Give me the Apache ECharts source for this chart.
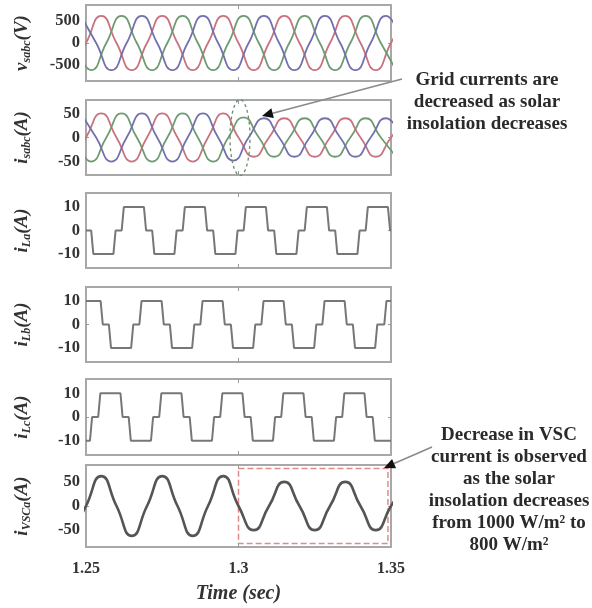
<!DOCTYPE html>
<html>
<head>
<meta charset="utf-8">
<script src="https://cdn.jsdelivr.net/npm/echarts@6/dist/echarts.min.js"></script>
<style>
  html, body { margin: 0; background: #fff; }
  #chart { width: 592px; height: 608px; }
</style>
</head>
<body>
<div id="chart"></div>
<script>
// time axis
const xTicks = [1.25, 1.3, 1.35];
const xLabels = ['1.25', '1.3', '1.35'];
const vTicks = [-500, 0, 500];
const iTicks = [-50, 0, 50];
const lTicks = [-10, 0, 10];

// grid voltages, keypoints (zero crossings and peaks)
const vsa = [[1.245,-620],[1.25,0],[1.255,620],[1.26,0],[1.265,-620],[1.27,0],[1.275,620],[1.28,0],[1.285,-620],[1.29,0],[1.295,620],[1.3,0],[1.305,-620],[1.31,0],[1.315,620],[1.32,0],[1.325,-620],[1.33,0],[1.335,620],[1.34,0],[1.345,-620],[1.35,0],[1.355,620]];
const vsb = [[1.24667,0],[1.25167,-620],[1.25667,0],[1.26167,620],[1.26667,0],[1.27167,-620],[1.27667,0],[1.28167,620],[1.28667,0],[1.29167,-620],[1.29667,0],[1.30167,620],[1.30667,0],[1.31167,-620],[1.31667,0],[1.32167,620],[1.32667,0],[1.33167,-620],[1.33667,0],[1.34167,620],[1.34667,0],[1.35167,-620]];
const vsc = [[1.24833,620],[1.25333,0],[1.25833,-620],[1.26333,0],[1.26833,620],[1.27333,0],[1.27833,-620],[1.28333,0],[1.28833,620],[1.29333,0],[1.29833,-620],[1.30333,0],[1.30833,620],[1.31333,0],[1.31833,-620],[1.32333,0],[1.32833,620],[1.33333,0],[1.33833,-620],[1.34333,0],[1.34833,620],[1.35333,0]];

// grid currents (drop after 1.3 s)
const isa = [[1.245,-50],[1.25,0],[1.255,50],[1.26,0],[1.265,-50],[1.27,0],[1.275,50],[1.28,0],[1.285,-50],[1.29,0],[1.295,50],[1.3,0],[1.305,-40],[1.31,0],[1.315,40],[1.32,0],[1.325,-40],[1.33,0],[1.335,40],[1.34,0],[1.345,-40],[1.35,0],[1.355,40]];
const isb = [[1.24667,0],[1.25167,-50],[1.25667,0],[1.26167,50],[1.26667,0],[1.27167,-50],[1.27667,0],[1.28167,50],[1.28667,0],[1.29167,-50],[1.29667,0],[1.30167,42],[1.30667,0],[1.31167,-40],[1.31667,0],[1.32167,40],[1.32667,0],[1.33167,-40],[1.33667,0],[1.34167,40],[1.34667,0],[1.35167,-40]];
const isc = [[1.24833,50],[1.25333,0],[1.25833,-50],[1.26333,0],[1.26833,50],[1.27333,0],[1.27833,-50],[1.28333,0],[1.28833,50],[1.29333,0],[1.29833,-48],[1.30333,0],[1.30833,40],[1.31333,0],[1.31833,-40],[1.32333,0],[1.32833,40],[1.33333,0],[1.33833,-40],[1.34333,0],[1.34833,40],[1.35333,0]];

// load currents, corner points of the stepped waves
const iLa = [[1.25,0],[1.2517,0],[1.2524,-10],[1.259,-10],[1.2597,0],[1.2617,0],[1.2624,10],[1.269,10],[1.2697,0],[1.2717,0],[1.2724,-10],[1.279,-10],[1.2797,0],[1.2817,0],[1.2824,10],[1.289,10],[1.2897,0],[1.2917,0],[1.2924,-10],[1.299,-10],[1.2997,0],[1.3017,0],[1.3024,10],[1.309,10],[1.3097,0],[1.3117,0],[1.3124,-10],[1.319,-10],[1.3197,0],[1.3217,0],[1.3224,10],[1.329,10],[1.3297,0],[1.3317,0],[1.3324,-10],[1.339,-10],[1.3397,0],[1.3417,0],[1.3424,10],[1.349,10],[1.3497,0],[1.35,0]];
const iLb = [[1.25,10],[1.2548,10],[1.2555,0],[1.2575,0],[1.2582,-10],[1.2648,-10],[1.2655,0],[1.2675,0],[1.2682,10],[1.2748,10],[1.2755,0],[1.2775,0],[1.2782,-10],[1.2848,-10],[1.2855,0],[1.2875,0],[1.2882,10],[1.2948,10],[1.2955,0],[1.2975,0],[1.2982,-10],[1.3048,-10],[1.3055,0],[1.3075,0],[1.3082,10],[1.3148,10],[1.3155,0],[1.3175,0],[1.3182,-10],[1.3248,-10],[1.3255,0],[1.3275,0],[1.3282,10],[1.3348,10],[1.3355,0],[1.3375,0],[1.3382,-10],[1.3448,-10],[1.3455,0],[1.3478,0],[1.3485,10],[1.35,10]];
const iLc = [[1.25,-10],[1.2513,-10],[1.252,0],[1.254,0],[1.2547,10],[1.2613,10],[1.262,0],[1.264,0],[1.2647,-10],[1.2713,-10],[1.272,0],[1.274,0],[1.2747,10],[1.2813,10],[1.282,0],[1.284,0],[1.2847,-10],[1.2913,-10],[1.292,0],[1.294,0],[1.2947,10],[1.3013,10],[1.302,0],[1.304,0],[1.3047,-10],[1.3113,-10],[1.312,0],[1.314,0],[1.3147,10],[1.3213,10],[1.322,0],[1.324,0],[1.3247,-10],[1.3313,-10],[1.332,0],[1.334,0],[1.3347,10],[1.3413,10],[1.342,0],[1.344,0],[1.3447,-10],[1.35,-10]];

// VSC phase-a current
const ivsc = [[1.245,-62],[1.25,0],[1.255,62],[1.26,0],[1.265,-62],[1.27,0],[1.275,62],[1.28,0],[1.285,-62],[1.29,0],[1.295,62],[1.3,0],[1.305,-50],[1.31,0],[1.315,50],[1.32,0],[1.325,-50],[1.33,0],[1.335,50],[1.34,0],[1.345,-50],[1.35,0],[1.355,50]];
const vscBox = [[1.3, 78], [1.349, -78]];

const FONT = 'Liberation Serif';
const colA = '#c9727f', colB = '#6f9b72', colC = '#7371ad';
const gray = '#777';

const panels = [
  { top: 5, height: 76, min: -870, max: 870, ticks: vTicks, name: '{i|v}{s|sabc}{i|(V)}',
    lines: [[vsa, colA], [vsb, colB], [vsc, colC]], smooth: 0.55, width: 1.8 },
  { top: 100, height: 75, min: -78, max: 78, ticks: iTicks, name: '{i|i}{s|sabc}{i|(A)}',
    lines: [[isa, colA], [isb, colB], [isc, colC]], smooth: 0.55, width: 1.8 },
  { top: 193, height: 75, min: -16, max: 16, ticks: lTicks, name: '{i|i}{s|La}{i|(A)}',
    lines: [[iLa, gray]], smooth: false, width: 2 },
  { top: 287, height: 75, min: -16, max: 16, ticks: lTicks, name: '{i|i}{s|Lb}{i|(A)}',
    lines: [[iLb, gray]], smooth: false, width: 2 },
  { top: 379, height: 76, min: -16, max: 16, ticks: lTicks, name: '{i|i}{s|Lc}{i|(A)}',
    lines: [[iLc, gray]], smooth: false, width: 2 },
  { top: 465, height: 82, min: -85, max: 85, ticks: iTicks, name: '{i|i}{s|VSCa}{i|(A)}',
    lines: [[ivsc, '#555']], smooth: 0.55, width: 2.6 }
];

const tickStyle = { color: '#999', width: 1 };
const grid = [], xAxis = [], yAxis = [], series = [];
panels.forEach((p, k) => {
  const last = k === panels.length - 1;
  grid.push({ left: 86, width: 305, top: p.top, height: p.height, show: true,
    borderColor: '#a8a8a8', borderWidth: 2, backgroundColor: 'transparent' });
  // bottom and top time axes (top one only carries tick marks)
  ['bottom', 'top'].forEach(pos => {
    const main = pos === 'bottom';
    xAxis.push({
      type: 'value', gridIndex: k, min: 1.25, max: 1.35, position: pos,
      axisLine: { show: false, onZero: false }, splitLine: { show: false },
      axisTick: { show: true, inside: true, length: 4, customValues: [1.3], lineStyle: tickStyle },
      axisLabel: { show: main && last, customValues: xTicks, margin: 14,
        formatter: v => xLabels[xTicks.findIndex(t => Math.abs(t - v) < 1e-6)] || '',
        fontFamily: FONT, fontWeight: 'bold', fontSize: 16, color: '#333' },
      name: main && last ? 'Time (sec)' : '', nameLocation: 'middle', nameGap: 37,
      nameTextStyle: { fontFamily: FONT, fontWeight: 'bold', fontStyle: 'italic', fontSize: 20, color: '#333' }
    });
  });
  ['left', 'right'].forEach(pos => {
    const main = pos === 'left';
    yAxis.push({
      type: 'value', gridIndex: k, min: p.min, max: p.max, position: pos,
      axisLine: { show: false, onZero: false }, splitLine: { show: false },
      axisTick: { show: true, inside: true, length: 3, customValues: [0], lineStyle: tickStyle },
      axisLabel: { show: main, customValues: p.ticks, margin: 6,
        fontFamily: FONT, fontWeight: 'bold', fontSize: 16.5, color: '#333' },
      name: main ? p.name : '', nameLocation: 'middle', nameRotate: 90, nameGap: 53,
      nameTextStyle: {
        fontFamily: FONT, color: '#333',
        rich: {
          i: { fontFamily: FONT, fontWeight: 'bold', fontStyle: 'italic', fontSize: 19, color: '#333' },
          s: { fontFamily: FONT, fontWeight: 'bold', fontStyle: 'italic', fontSize: 12, color: '#333',
               verticalAlign: 'bottom', padding: [9, 0, 0, 0] }
        }
      }
    });
  });
  p.lines.forEach(([data, color]) => {
    series.push({
      type: 'line', xAxisIndex: 2 * k, yAxisIndex: 2 * k, data, smooth: p.smooth,
      showSymbol: false, symbol: 'none', clip: true, animation: false,
      lineStyle: { color, width: p.width }
    });
  });
});

// dashed box on the VSC panel after the irradiance change
series[series.length - 1].markArea = {
  silent: true,
  itemStyle: { color: 'rgba(0,0,0,0)', borderColor: '#e08a8a', borderWidth: 1.5, borderType: 'dashed' },
  data: [[{ coord: vscBox[0] }, { coord: vscBox[1] }]]
};

const chart = echarts.init(document.getElementById('chart'), null, { renderer: 'canvas' });
chart.setOption({ animation: false, grid, xAxis, yAxis, series });

function arrow(x1, y1, x2, y2) {
  const a = Math.atan2(y2 - y1, x2 - x1), L = 11, W = 5;
  const bx = x2 - L * Math.cos(a), by = y2 - L * Math.sin(a);
  return [
    { type: 'line', shape: { x1, y1, x2: bx, y2: by }, style: { stroke: '#8a8a8a', lineWidth: 1.6 }, z: 10 },
    { type: 'polygon', shape: { points: [[x2, y2],
        [bx + W * Math.sin(a), by - W * Math.cos(a)],
        [bx - W * Math.sin(a), by + W * Math.cos(a)]] }, style: { fill: '#111' }, z: 11 }
  ];
}

const ec = chart.convertToPixel({ gridIndex: 1 }, [1.3, 0]);
const note = (x, y, text) => ({
  type: 'text', x, y, z: 12,
  style: { text, fontFamily: FONT, fontWeight: 'bold', fontSize: 19, fill: '#2a2a2a',
    align: 'center', verticalAlign: 'top', lineHeight: 22 }
});
chart.setOption({
  graphic: [
    { type: 'ellipse', shape: { cx: ec[0] + 1.5, cy: ec[1], rx: 10, ry: 38 },
      style: { fill: 'none', stroke: '#6b8a6b', lineWidth: 1.3, lineDash: [3, 3] }, z: 9 },
    ...arrow(402, 79, 262, 116),
    ...arrow(432, 447, 384, 468),
    note(487, 69, 'Grid currents are\ndecreased as solar\ninsolation decreases'),
    note(509, 424, 'Decrease in VSC\ncurrent is observed\nas the solar\ninsolation decreases\nfrom 1000 W/m\u00b2 to\n800 W/m\u00b2')
  ]
});
</script>
</body>
</html>
